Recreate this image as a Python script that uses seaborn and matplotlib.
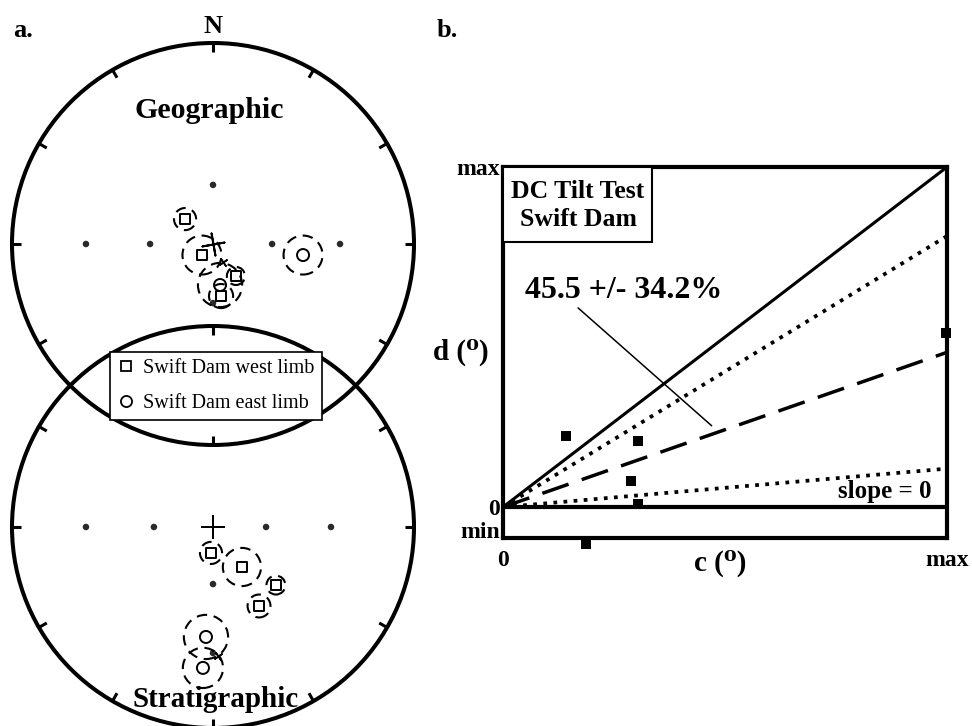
import numpy as np
import matplotlib
matplotlib.use("Agg")
import matplotlib.pyplot as plt
from matplotlib.patches import Circle, Rectangle
from matplotlib.lines import Line2D
import seaborn as sns

sns.set_style("white")
plt.rcParams["font.family"] = ["Liberation Serif", "DejaVu Serif"]
plt.rcParams.update({"text.color": "black", "axes.labelcolor": "black",
                     "xtick.color": "black", "ytick.color": "black"})

# ---------------- stereonet data (x = east, y = north, units of net radius) ----
# Geographic coordinates
geo_west_x = [-0.139, -0.055, 0.114, 0.040]
geo_west_y = [0.124, -0.055, -0.159, -0.259]
geo_west_a95 = [0.055, 0.097, 0.045, 0.060]
geo_east_x = [0.035, 0.448]
geo_east_y = [-0.204, -0.055]
geo_east_a95 = [0.110, 0.097]
geo_mean_x = [0.050]
geo_mean_y = [-0.090]
geo_grid_x = [0.0, 0.0, -0.632, -0.313, 0.294, 0.632]
geo_grid_y = [0.294, -0.294, 0.0, 0.0, 0.0, 0.0]

# Stratigraphic (tilt-corrected) coordinates
str_west_x = [-0.010, 0.144, 0.313, 0.229]
str_west_y = [-0.129, -0.199, -0.289, -0.393]
str_west_a95 = [0.055, 0.095, 0.047, 0.057]
str_east_x = [-0.035, -0.050]
str_east_y = [-0.547, -0.701]
str_east_a95 = [0.110, 0.100]
str_mean_x = [0.025]
str_mean_y = [-0.641]
str_grid_x = [-0.632, -0.294, 0.264, 0.587, 0.0, 0.0]
str_grid_y = [0.0, 0.0, 0.0, 0.0, -0.284, -0.627]

legend_labels = ["Swift Dam west limb", "Swift Dam east limb"]

# ---------------- DC tilt test data (normalised c and d) -----------------------
c_vals = [0.142, 0.305, 0.288, 0.305, 0.188, 0.998]
d_vals = [0.210, 0.195, 0.076, 0.009, -0.109, 0.511]
dc_percent = 45.5
dc_error = 34.2
d_min = -0.091

# ---------------- figure -------------------------------------------------------
W, H = 972, 726
fig = plt.figure(figsize=(W / 100, H / 100), dpi=100)
fig.patch.set_facecolor("white")

# left panel: one axes in net-radius units (1 unit = 201 px)
unit = 201.0
axL = fig.add_axes([0, 0, 430 / W, 1])
axL.set_xlim(-213 / unit, (430 - 213) / unit)
axL.set_ylim(-(H - 244) / unit, 244 / unit)
axL.axis("off")

geo_center = (0.0, 0.0)
str_center = (0.0, -(527 - 244) / unit)


def draw_net(ax, center, grid_x, grid_y, west, east, mean, cross_angle):
    cx, cy = center
    ax.add_patch(Circle((cx, cy), 1.0, fill=False, ec="black", lw=2.9,
                        clip_on=False, zorder=2))
    for ang in range(0, 360, 30):
        t = np.radians(ang)
        ax.plot([cx + np.sin(t), cx + 0.955 * np.sin(t)],
                [cy + np.cos(t), cy + 0.955 * np.cos(t)],
                color="black", lw=2.2, solid_capstyle="butt",
                clip_on=False, zorder=2)
    sns.scatterplot(x=cx + np.array(grid_x), y=cy + np.array(grid_y), ax=ax,
                    s=22, color="#2a2a2a", edgecolor="none", zorder=3)
    sns.scatterplot(x=[cx], y=[cy], ax=ax, marker=(4, 2, cross_angle), s=260,
                    color="black", linewidth=1.4, zorder=3)
    for (xs, ys, rs), mk, sz in ((west, "s", 55), (east, "o", 75)):
        for x, y, r in zip(xs, ys, rs):
            ax.add_patch(Circle((cx + x, cy + y), r, fill=False, ec="black",
                                lw=1.5, ls=(0, (5, 3.2)), zorder=4))
        sns.scatterplot(x=cx + np.array(xs), y=cy + np.array(ys), ax=ax,
                        marker=mk, s=sz, facecolor="none", edgecolor="black",
                        linewidth=1.4, zorder=5)
    sns.scatterplot(x=cx + np.array(mean[0]), y=cy + np.array(mean[1]), ax=ax,
                    marker=(4, 2, 35), s=36, color="black", linewidth=1.2,
                    zorder=5)


draw_net(axL, geo_center, geo_grid_x, geo_grid_y,
         (geo_west_x, geo_west_y, geo_west_a95),
         (geo_east_x, geo_east_y, geo_east_a95),
         (geo_mean_x, geo_mean_y), 10)
draw_net(axL, str_center, str_grid_x, str_grid_y,
         (str_west_x, str_west_y, str_west_a95),
         (str_east_x, str_east_y, str_east_a95),
         (str_mean_x, str_mean_y), 0)

handles = [
    Line2D([], [], ls="none", marker="s", ms=7, mfc="none", mec="black", mew=1.3),
    Line2D([], [], ls="none", marker="o", ms=8, mfc="none", mec="black", mew=1.3),
]
leg = axL.legend(handles, legend_labels, loc="upper left",
                 bbox_to_anchor=(110 / W, 1 - 352 / H),
                 bbox_transform=fig.transFigure, fontsize=14.5,
                 frameon=True, fancybox=False, edgecolor="black",
                 framealpha=1, borderpad=0.35, labelspacing=0.78,
                 handlelength=0.9, handletextpad=0.4, borderaxespad=0)
leg.get_frame().set_linewidth(1.2)
leg.set_zorder(10)

bold = dict(fontweight="bold")
fig.text(13 / W, 1 - 37 / H, "a.", fontsize=19, va="baseline", **bold)
fig.text(437 / W, 1 - 37 / H, "b.", fontsize=19, va="baseline", **bold)
fig.text(213 / W, 1 - 33 / H, "N", fontsize=19, ha="center", va="baseline", **bold)
fig.text(209 / W, 1 - 118 / H, "Geographic", fontsize=21.5, ha="center",
         va="baseline", **bold)
fig.text(216 / W, 1 - 707 / H, "Stratigraphic", fontsize=21, ha="center",
         va="baseline", **bold)

# right panel: DC tilt test
axR = fig.add_axes([503 / W, 1 - 538 / H, 444 / W, 371 / H])
axR.set_xlim(0, 1)
axR.set_ylim(d_min, 1)
axR.set_facecolor("white")
for sp in axR.spines.values():
    sp.set_linewidth(3)
    sp.set_color("black")
    sp.set_visible(True)

slope_mean = dc_percent / 100
slope_hi = (dc_percent + dc_error) / 100
slope_lo = (dc_percent - dc_error) / 100

sns.lineplot(x=[0, 1], y=[0, 1.0], ax=axR, color="black", lw=2.2)
sns.lineplot(x=[0, 1], y=[0, slope_hi], ax=axR, color="black", lw=2.7,
             ls=(0, (1, 1.7)))
sns.lineplot(x=[0, 1], y=[0, slope_mean], ax=axR, color="black", lw=2.5,
             ls=(0, (8, 4)))
sns.lineplot(x=[0, 1], y=[0, slope_lo], ax=axR, color="black", lw=2.7,
             ls=(0, (1, 1.7)))
sns.lineplot(x=[0, 1], y=[0, 0], ax=axR, color="black", lw=3)

sns.scatterplot(x=c_vals, y=d_vals, ax=axR, marker="s", s=60, color="black",
                edgecolor="black", linewidth=0, clip_on=False, zorder=6)

axR.add_patch(Rectangle((0, 1 - 75 / 371), 149 / 444, 75 / 371,
                        transform=axR.transAxes, fc="white", ec="black",
                        lw=1.5, zorder=7))
axR.text(75 / 444, 1 - 38.5 / 371, "DC Tilt Test\nSwift Dam",
         transform=axR.transAxes, ha="center", va="center", fontsize=18.5,
         linespacing=1.3, zorder=8, **bold)

axR.annotate(f"{dc_percent} +/- {dc_error}%", xy=(0.470, 0.239),
             xytext=(0.0495, 0.638), ha="left", va="center", fontsize=23,
             arrowprops=dict(arrowstyle="-", lw=1.1, color="black",
                             relpos=(0.25, 0), shrinkA=0, shrinkB=0),
             zorder=8, **bold)
axR.text(0.966, 0.047, "slope = 0", ha="right", va="center", fontsize=18,
         zorder=8, **bold)

axR.set_xticks([0, 1])
axR.set_xticklabels(["0", "max"])
axR.set_yticks([d_min, 0, 1])
axR.set_yticklabels(["min", "0", "max"])
axR.tick_params(axis="both", length=0, labelsize=17)
axR.tick_params(axis="x", pad=9)
axR.tick_params(axis="y", pad=2)
for lbl in axR.get_xticklabels() + axR.get_yticklabels():
    lbl.set_fontweight("bold")
axR.get_yticklabels()[0].set_va("baseline")

axR.set_xlabel("c (\u2070)", fontsize=21, va="center", **bold)
axR.xaxis.set_label_coords(0.49, -25 / 371)
axR.set_ylabel("d (\u2070)", fontsize=21, rotation=0, ha="right",
               va="center", **bold)
axR.yaxis.set_label_coords(-14 / 444, 0.5)

fig.savefig("out.png", dpi=100)
